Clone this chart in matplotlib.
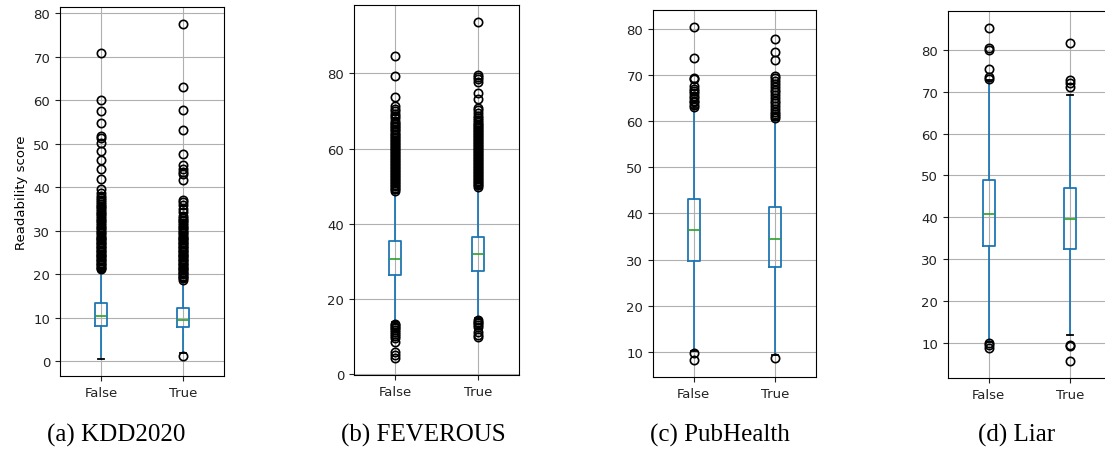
import matplotlib
matplotlib.use("Agg")
import matplotlib.pyplot as plt

# x categories for every panel
labels = ["False", "True"]
captions = ["(a) KDD2020", "(b) FEVEROUS", "(c) PubHealth", "(d) Liar"]

# box statistics, one pair (False, True) per dataset
kdd_q1 = [8.2, 7.8]
kdd_med = [10.4, 9.6]
kdd_q3 = [13.4, 12.2]
kdd_lo = [0.5, 1.9]
kdd_hi = [21.0, 18.5]
kdd_fliers = [
    [70.9, 60.0, 57.6, 54.9, 51.8, 51.3, 50.2, 48.3, 46.4, 44.2, 41.9, 39.7,
     38.8, 38.0, 37.5, 37.0, 36.6, 36.2, 35.8, 35.4, 35.0, 34.6, 34.2, 33.8,
     33.4, 33.0, 32.6, 32.2, 31.8, 31.4, 31.0, 30.6, 30.2, 29.8, 29.4, 29.0,
     28.7, 28.4, 28.1, 27.8, 27.5, 27.2, 26.9, 26.6, 26.3, 26.0, 25.7, 25.4,
     25.1, 24.8, 24.5, 24.2, 23.9, 23.6, 23.3, 23.0, 22.7, 22.4, 22.1, 21.8,
     21.5, 21.2],
    [77.6, 63.1, 57.7, 53.2, 47.6, 45.2, 44.3, 43.6, 43.1, 41.6, 37.1, 36.6,
     35.9, 35.1, 34.3, 33.5, 33.0, 32.6, 32.2, 31.8, 31.4, 31.0, 30.6, 30.2,
     29.8, 29.4, 29.0, 28.7, 28.4, 28.1, 27.8, 27.5, 27.2, 26.9, 26.6, 26.3,
     26.0, 25.7, 25.4, 25.1, 24.8, 24.5, 24.2, 23.9, 23.6, 23.3, 23.0, 22.7,
     22.4, 22.1, 21.8, 21.5, 21.2, 20.9, 20.6, 20.3, 20.0, 19.7, 19.4, 19.1,
     18.8, 1.15],
]

fev_q1 = [26.5, 27.5]
fev_med = [30.6, 32.0]
fev_q3 = [35.4, 36.6]
fev_lo = [13.8, 15.0]
fev_hi = [48.3, 49.5]
fev_fliers = [
    [84.6, 79.4, 73.7, 71.2, 70.6, 70.0, 69.3, 68.6, 68.0, 67.4, 66.9, 66.4,
     66.0, 65.6, 65.2, 64.8, 64.4, 64.0, 63.6, 63.2, 62.8, 62.4, 62.0, 61.6,
     61.2, 60.8, 60.4, 60.0, 59.6, 59.2, 58.8, 58.4, 58.0, 57.6, 57.2, 56.8,
     56.4, 56.0, 55.6, 55.2, 54.8, 54.4, 54.0, 53.6, 53.2, 52.8, 52.4, 52.0,
     51.6, 51.2, 50.8, 50.4, 50.0, 49.6, 49.2, 48.8,
     13.4, 13.0, 12.6, 12.2, 11.7, 11.2, 10.6, 10.2, 9.6, 8.5, 5.8, 5.0, 4.25],
    [93.7, 79.5, 79.0, 78.5, 77.8, 74.8, 73.2, 70.7, 70.3, 69.4, 68.7, 68.0,
     67.5, 67.0, 66.6, 66.2, 65.8, 65.4, 65.0, 64.6, 64.2, 63.8, 63.4, 63.0,
     62.6, 62.2, 61.8, 61.4, 61.0, 60.6, 60.2, 59.8, 59.4, 59.0, 58.6, 58.2,
     57.8, 57.4, 57.0, 56.6, 56.2, 55.8, 55.4, 55.0, 54.6, 54.2, 53.8, 53.4,
     53.0, 52.6, 52.2, 51.8, 51.4, 51.0, 50.6, 50.2, 49.8,
     14.5, 14.0, 13.6, 13.1, 12.6, 11.2, 10.5, 10.0],
]

pub_q1 = [29.8, 28.3]
pub_med = [36.45, 34.5]
pub_q3 = [43.2, 41.3]
pub_lo = [10.2, 9.4]
pub_hi = [62.8, 60.2]
pub_fliers = [
    [80.4, 73.6, 69.4, 69.0, 67.6, 67.0, 66.5, 66.0, 65.5, 64.9, 64.4, 64.0,
     63.5, 63.1, 9.8, 8.2],
    [77.8, 74.9, 73.1, 69.7, 69.2, 68.6, 68.0, 67.4, 66.8, 66.2, 65.6, 65.0,
     64.4, 63.8, 63.2, 62.6, 62.0, 61.5, 61.0, 60.6, 8.8],
]

liar_q1 = [33.25, 32.4]
liar_med = [40.8, 39.6]
liar_q3 = [49.0, 47.1]
liar_lo = [10.2, 12.0]
liar_hi = [72.8, 69.3]
liar_fliers = [
    [85.3, 80.4, 80.0, 75.4, 73.5, 73.1, 9.9, 9.5, 8.7],
    [81.7, 72.7, 72.2, 71.1, 9.6, 9.2, 5.6],
]

datasets = [
    (kdd_q1, kdd_med, kdd_q3, kdd_lo, kdd_hi, kdd_fliers),
    (fev_q1, fev_med, fev_q3, fev_lo, fev_hi, fev_fliers),
    (pub_q1, pub_med, pub_q3, pub_lo, pub_hi, pub_fliers),
    (liar_q1, liar_med, liar_q3, liar_lo, liar_hi, liar_fliers),
]

W, H = 1105, 452
fig = plt.figure(figsize=(W / 100, H / 100), dpi=100)

# axes boxes in pixels: left, right, top, bottom
boxes_px = [(60, 224, 8, 377), (354, 519, 6, 376), (653, 816, 11, 378), (948, 1111, 12, 379)]
caption_x = [116, 423, 720, 1017]

for i, (q1, med, q3, lo, hi, fl) in enumerate(datasets):
    l, r, t, b = boxes_px[i]
    ax = fig.add_axes([l / W, (H - b) / H, (r - l) / W, (b - t) / H])
    stats = []
    for j in range(2):
        stats.append(dict(label=labels[j], q1=q1[j], med=med[j], q3=q3[j],
                          whislo=lo[j], whishi=hi[j], fliers=fl[j]))
    ax.bxp(stats, positions=[1, 2], widths=0.15,
           boxprops=dict(color="#1f77b4", linewidth=1.3),
           whiskerprops=dict(color="#1f77b4", linewidth=1.3),
           capprops=dict(color="k", linewidth=1.3),
           medianprops=dict(color="#2ca02c", linewidth=1.2),
           flierprops=dict(marker="o", markerfacecolor="none",
                           markeredgecolor="k", markeredgewidth=1.2))
    ax.set_xlim(0.5, 2.5)
    ax.grid(True)
    ax.set_axisbelow(True)
    ax.tick_params(labelsize=9.5, colors="#222222")
    if i == 0:
        ax.set_ylabel("Readability score", fontsize=9.5)
    fig.text(caption_x[i] / W, 1 - 435 / H, captions[i], ha="center", va="center",
             fontsize=18, family="Liberation Serif")

fig.savefig("out.png", dpi=100)
